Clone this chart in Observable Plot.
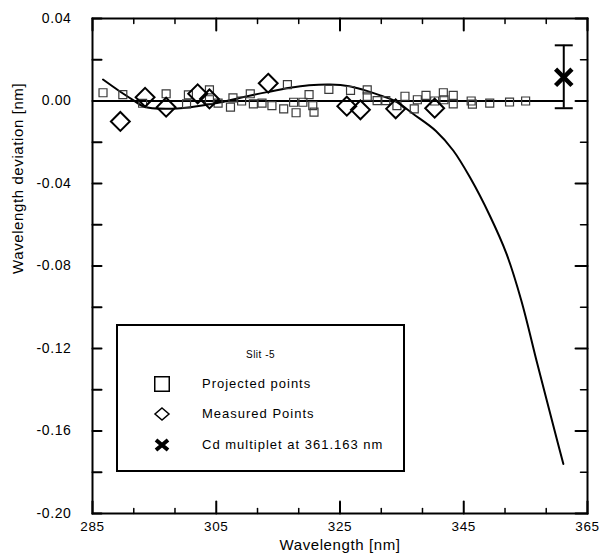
<!DOCTYPE html>
<html>
<head>
<meta charset="utf-8">
<script src="https://cdn.jsdelivr.net/npm/d3@7"></script>
<script src="https://cdn.jsdelivr.net/npm/@observablehq/plot@0.6"></script>
<style>
  html, body { margin: 0; padding: 0; background: #fff; }
  body { font-family: "Liberation Sans", Arial, sans-serif; }
  #wrap { position: relative; width: 599px; height: 557px; overflow: hidden; }
  #chart svg text { letter-spacing: 0.6px; }
  #legend { position: absolute; left: 116px; top: 324px; width: 289px; height: 148px;
            box-sizing: border-box; border: 2px solid #000; background: #fff; }
  #legend .title { position: absolute; left: 0; width: 100%; top: 23px; text-align: center;
                   font-size: 10px; letter-spacing: 0.5px; }
  #legend .row { position: absolute; left: 0; height: 20px; width: 100%; }
  #legend .row svg { position: absolute; left: 34px; top: 0; }
  #legend .row span { position: absolute; left: 84px; top: 2px; font-size: 13px; letter-spacing: 1px; line-height: 16px; }
</style>
</head>
<body>
<div id="wrap">
  <div id="chart"></div>
  <div id="legend"></div>
</div>
<script>
// ---- data ----
const xDomain = [285, 365];
const yDomain = [-0.20, 0.04];

const xMajorTicks = [285, 305, 325, 345, 365];
const xMinorTicks = [291.67, 298.33, 311.67, 318.33, 331.67, 338.33, 351.67, 358.33];
const yMajorTicks = [0.04, 0.00, -0.04, -0.08, -0.12, -0.16, -0.20];
const yMinorTicks = [0.02, -0.02, -0.06, -0.10, -0.14, -0.18];

const xLabel = "Wavelength [nm]";
const yLabel = "Wavelength deviation [nm]";

// Projected points (squares)
const projectedWl = [286.7, 289.9, 293.1, 296.9, 300.2, 300.5, 303.9, 303.9, 305.3, 307.3,
  307.7, 309.1, 310.5, 311.0, 312.4, 314.0, 315.9, 316.5, 317.5, 317.9,
  319.0, 320.0, 320.6, 320.8, 323.2, 326.7, 329.4, 329.4, 331.0, 332.4,
  334.2, 335.5, 337.0, 337.5, 338.9, 340.3, 341.7, 341.8, 343.3, 343.3,
  346.2, 346.4, 349.2, 352.4, 355.0];
const projectedDev = [0.0040, 0.0031, -0.0011, 0.0035, -0.0014, 0.0030, 0.0054, 0.0006, -0.0010, -0.0030,
  0.0015, 0.0000, 0.0035, -0.0014, -0.0010, -0.0022, -0.0038, 0.0079, -0.0006, -0.0057,
  -0.0006, 0.0031, -0.0022, -0.0054, 0.0056, 0.0051, 0.0054, 0.0023, 0.0002, 0.0002,
  -0.0022, 0.0023, -0.0038, 0.0006, 0.0027, 0.0000, 0.0040, 0.0006, 0.0027, -0.0014,
  0.0000, -0.0015, -0.0010, -0.0005, 0.0000];

// Measured points (diamonds)
const measuredWl = [289.5, 293.5, 296.9, 302.0, 303.9, 313.4, 326.1, 328.3, 334.0, 340.3];
const measuredDev = [-0.0099, 0.0018, -0.0030, 0.0035, 0.0010, 0.0086, -0.0025, -0.0043, -0.0038, -0.0035];

// Fitted curve
const fitWl = [286.7, 289.2, 291.7, 293.3, 297.0, 300.8, 305.1, 308.9, 313.2, 316.9,
  320.0, 323.4, 326.5, 328.8, 331.5, 333.9, 336.8, 340.5, 343.3, 346.0,
  349.2, 351.9, 354.3, 356.9, 359.7, 361.1];
const fitDev = [0.0104, 0.0051, 0.0002, -0.0028, -0.0038, -0.0030, -0.0010, 0.0016, 0.0043, 0.0064,
  0.0076, 0.0080, 0.0072, 0.0054, 0.0027, 0.0000, -0.0062, -0.0145, -0.0240, -0.0370,
  -0.0555, -0.0740, -0.0967, -0.1275, -0.1600, -0.1760];

// Cd multiplet with error bar
const cdWl = [361.163];
const cdDev = [0.0115];
const cdLow = [-0.0035];
const cdHigh = [0.0270];

const legendTitle = "Slit -5";
const legendLabels = ["Projected points", "Measured Points", "Cd multiplet at 361.163 nm"];

// ---- build tables ----
const projected = projectedWl.map((x, i) => ({x, y: projectedDev[i]}));
const measured = measuredWl.map((x, i) => ({x, y: measuredDev[i]}));
const fit = fitWl.map((x, i) => ({x, y: fitDev[i]}));
const cd = cdWl.map((x, i) => ({x, y: cdDev[i], lo: cdLow[i], hi: cdHigh[i]}));

const tickShape = { draw(context, l) { context.moveTo(0, 0); context.lineTo(0, -l); } };
const capSymbol = { draw(context, size) { const r = Math.sqrt(size / Math.PI); context.moveTo(-r, 0); context.lineTo(r, 0); } };

const tick = (data, channel, frameAnchor, rotate, length, sw) =>
  Plot.vector(data, {[channel]: d => d, frameAnchor, rotate, length, anchor: "start",
    shape: tickShape, stroke: "black", strokeWidth: sw});

const chart = Plot.plot({
  width: 599, height: 557,
  marginLeft: 92, marginRight: 12, marginTop: 18, marginBottom: 44,
  x: {domain: xDomain, axis: null},
  y: {domain: yDomain, axis: null},
  style: {fontFamily: "'Liberation Sans', Arial, sans-serif", fontSize: "14px", color: "black", background: "white"},
  marks: [
    // zero reference line
    Plot.ruleY([0], {x1: xDomain[0], x2: cdWl[0], stroke: "black", strokeWidth: 2}),
    // fitted curve
    Plot.line(fit, {x: "x", y: "y", curve: "catmull-rom", stroke: "black", strokeWidth: 2}),
    // projected points
    Plot.dot(projected, {x: "x", y: "y", symbol: "square", r: 4.5, stroke: "#3a3a3a", strokeWidth: 1.2, fill: "none"}),
    // measured points
    Plot.dot(measured, {x: "x", y: "y", symbol: "diamond2", r: 8.5, stroke: "black", strokeWidth: 2, fill: "none"}),
    // Cd error bar
    Plot.ruleX(cd, {x: "x", y1: "lo", y2: "hi", stroke: "black", strokeWidth: 2}),
    Plot.dot(cd, {x: "x", y: "hi", symbol: capSymbol, r: 9, stroke: "black", strokeWidth: 2, fill: "none"}),
    Plot.dot(cd, {x: "x", y: "lo", symbol: capSymbol, r: 9, stroke: "black", strokeWidth: 2, fill: "none"}),
    Plot.dot(cd, {x: "x", y: "y", symbol: "times", r: 7.5, stroke: "black", strokeWidth: 4.5}),
    // frame
    Plot.frame({stroke: "black", strokeWidth: 2}),
    // inward ticks
    tick(yMajorTicks, "y", "left", 90, 9, 2),
    tick(yMinorTicks, "y", "left", 90, 9, 2),
    tick(yMajorTicks, "y", "right", -90, 12, 2),
    tick(yMinorTicks, "y", "right", -90, 7, 1.5),
    tick(xMajorTicks, "x", "bottom", 0, 12, 2),
    tick(xMinorTicks, "x", "bottom", 0, 5, 1.5),
    tick(xMajorTicks, "x", "top", 180, 12, 2),
    tick(xMinorTicks, "x", "top", 180, 5, 1.5),
    // tick labels
    Plot.text(yMajorTicks, {y: d => d, text: d => d.toFixed(2), frameAnchor: "left", dx: -21, textAnchor: "end", fontSize: 14, fill: "black"}),
    Plot.text(xMajorTicks, {x: d => d, text: d => String(d), frameAnchor: "bottom", dy: 17, fontSize: 13.5, fill: "black"}),
    // axis titles
    Plot.text([xLabel], {frameAnchor: "bottom", dy: 36, fontSize: 15, fill: "black"}),
    Plot.text([yLabel], {frameAnchor: "left", dx: -74, dy: 8, rotate: -90, fontSize: 15, fill: "black"})
  ]
});
document.getElementById("chart").appendChild(chart);

// ---- legend (inside plot area) ----
const legend = document.getElementById("legend");
const t = document.createElement("div");
t.className = "title";
t.textContent = legendTitle;
legend.appendChild(t);
const legendSymbols = [
  '<rect x="2.75" y="2.75" width="14.5" height="14.5" fill="none" stroke="black" stroke-width="1.5"/>',
  '<path d="M10,4 L17,10 L10,16 L3,10 Z" fill="none" stroke="black" stroke-width="1.5"/>',
  '<path d="M4,5 L16,15 M16,5 L4,15" stroke="black" stroke-width="4"/>'
];
const rowTops = [48, 78, 109];
legendLabels.forEach((lab, i) => {
  const row = document.createElement("div");
  row.className = "row";
  row.style.top = rowTops[i] + "px";
  row.innerHTML = `<svg width="20" height="20" viewBox="0 0 20 20">${legendSymbols[i]}</svg><span>${lab}</span>`;
  legend.appendChild(row);
});
</script>
</body>
</html>
